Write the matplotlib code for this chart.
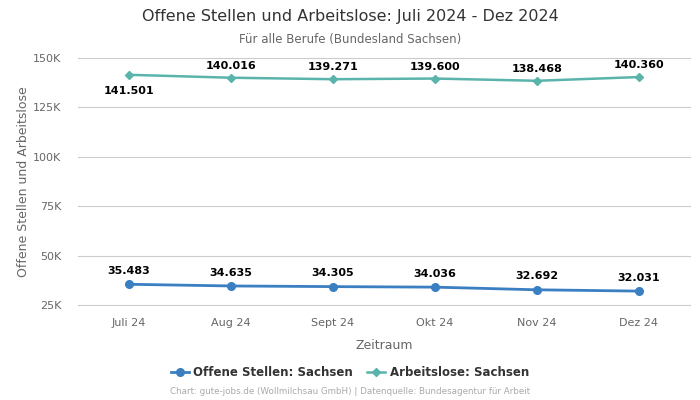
import matplotlib
matplotlib.use("Agg")
import matplotlib.pyplot as plt
from matplotlib.ticker import FuncFormatter

monate = ["Juli 24", "Aug 24", "Sept 24", "Okt 24", "Nov 24", "Dez 24"]
offene_stellen = [35483, 34635, 34305, 34036, 32692, 32031]
arbeitslose = [141501, 140016, 139271, 139600, 138468, 140360]

blau = "#3a7fc1"
tuerkis = "#5ab4ac"

def fmt(v):
    return f"{v:,}".replace(",", ".")

fig = plt.figure(figsize=(7, 4), dpi=100)
ax = fig.add_axes([0.1114, 0.2375, 0.8743, 0.6175])

x = list(range(len(monate)))
ax.plot(x, offene_stellen, color=blau, marker="o", markersize=5.5, linewidth=2,
        label="Offene Stellen: Sachsen", zorder=3)
ax.plot(x, arbeitslose, color=tuerkis, marker="D", markersize=4, linewidth=1.8,
        label="Arbeitslose: Sachsen", zorder=3)

for i, v in enumerate(offene_stellen):
    ax.annotate(fmt(v), (i, v), xytext=(0, 6), textcoords="offset points",
                ha="center", va="bottom", fontsize=8, fontweight="bold", color="black")
for i, v in enumerate(arbeitslose):
    dy = -8 if i == 0 else 5
    ax.annotate(fmt(v), (i, v), xytext=(0, dy), textcoords="offset points",
                ha="center", va="top" if i == 0 else "bottom",
                fontsize=8, fontweight="bold", color="black")

ax.set_xlim(-0.5, len(monate) - 0.5)
ax.set_ylim(25000, 150000)
ax.set_yticks([25000, 50000, 75000, 100000, 125000, 150000])
ax.yaxis.set_major_formatter(FuncFormatter(lambda v, p: f"{int(v/1000)}K"))
ax.set_xticks(x)
ax.set_xticklabels(monate)
ax.grid(axis="y", color="#cccccc", linewidth=0.8)
for gl in ax.get_ygridlines():
    gl.set_clip_on(False)
ax.set_axisbelow(True)
for s in ax.spines.values():
    s.set_visible(False)
ax.tick_params(axis="both", length=0, colors="#666666", labelsize=8)
ax.tick_params(axis="x", pad=9)
ax.tick_params(axis="y", pad=12)
ax.set_xlabel("Zeitraum", color="#666666", fontsize=9, labelpad=8)
ax.set_ylabel("Offene Stellen und Arbeitslose", color="#666666", fontsize=9, labelpad=2)

fig.text(0.5, 0.958, "Offene Stellen und Arbeitslose: Juli 2024 - Dez 2024",
         ha="center", va="center", fontsize=11.5, color="#333333")
fig.text(0.5, 0.902, "Für alle Berufe (Bundesland Sachsen)",
         ha="center", va="center", fontsize=8.5, color="#666666")

fig.legend(loc="center", bbox_to_anchor=(0.5, 0.068), ncol=2, frameon=False,
           prop={"weight": "bold", "size": 8.5}, labelcolor="#333333",
           handlelength=1.5, handletextpad=0.4, columnspacing=1.2)
fig.text(0.5, 0.02, "Chart: gute-jobs.de (Wollmilchsau GmbH) | Datenquelle: Bundesagentur für Arbeit",
         ha="center", va="center", fontsize=6.3, color="#aaaaaa")

fig.savefig("out.png", dpi=100)
